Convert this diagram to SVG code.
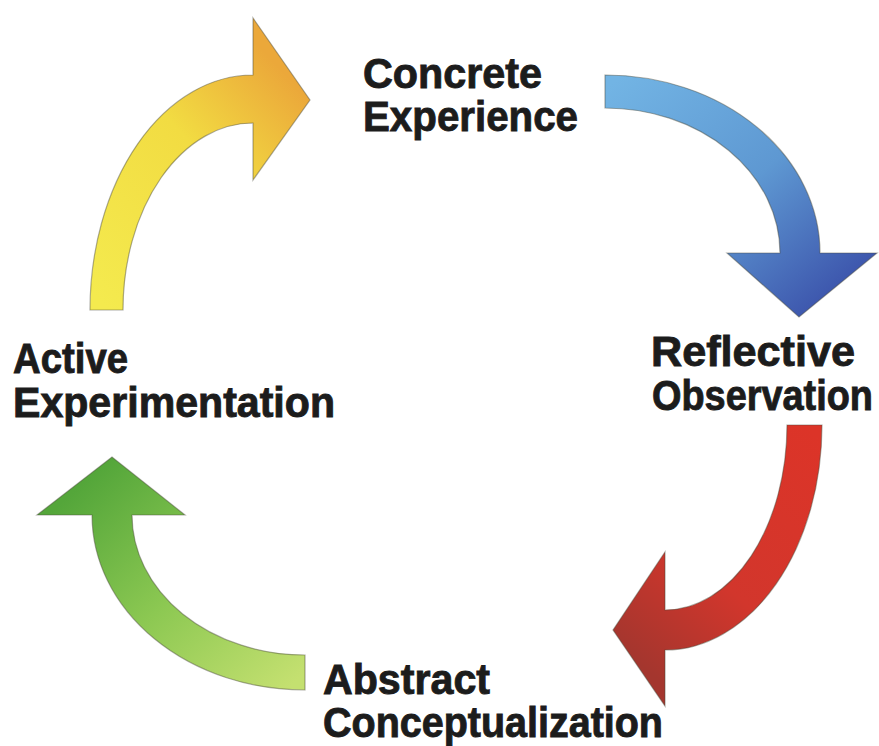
<svg xmlns="http://www.w3.org/2000/svg" width="879" height="746" viewBox="0 0 879 746">
  <style>
    .lbl { font-family: "Liberation Sans", Arial, sans-serif; font-weight: bold; font-size: 42px; fill: #1c1c1c; stroke: #1c1c1c; stroke-width: 0.9; }
    .arrow { stroke: #4a4a3a; stroke-opacity: 0.45; stroke-width: 1.2; stroke-linejoin: miter; }
  </style>
  <defs>
    <linearGradient id="gYellow" gradientUnits="userSpaceOnUse" x1="100" y1="300" x2="310" y2="100">
      <stop offset="0" stop-color="#f4ea4e"/>
      <stop offset="0.6" stop-color="#f2dc42"/>
      <stop offset="1" stop-color="#eba83a"/>
    </linearGradient>
    <linearGradient id="gBlue" gradientUnits="userSpaceOnUse" x1="605" y1="90" x2="800" y2="317">
      <stop offset="0" stop-color="#72b4e4"/>
      <stop offset="0.55" stop-color="#5e98d2"/>
      <stop offset="1" stop-color="#3e58ae"/>
    </linearGradient>
    <linearGradient id="gRed" gradientUnits="userSpaceOnUse" x1="805" y1="425" x2="613" y2="640">
      <stop offset="0" stop-color="#dc3428"/>
      <stop offset="0.6" stop-color="#d2362c"/>
      <stop offset="1" stop-color="#a4362e"/>
    </linearGradient>
    <linearGradient id="gGreen" gradientUnits="userSpaceOnUse" x1="305" y1="672" x2="112" y2="457">
      <stop offset="0" stop-color="#c4e070"/>
      <stop offset="0.5" stop-color="#8cc852"/>
      <stop offset="1" stop-color="#54a63a"/>
    </linearGradient>
  </defs>
  <rect width="879" height="746" fill="#ffffff"/>

  <g id="connectors">
    <path id="arrow-ae-ce" class="arrow" fill="url(#gYellow)" d="M90,310 A163,235 0 0 1 253,75 L253,18 L310,100 L253,180 L253,123 A130,187 0 0 0 123,310 Z"/>
    <path id="arrow-ce-ro" class="arrow" fill="url(#gBlue)" d="M605,75 A215,178 0 0 1 820,253 L877,253 L799,317 L727,253 L780,253 A175,145 0 0 0 605,108 Z"/>
    <path id="arrow-ro-ac" class="arrow" fill="url(#gRed)" d="M822,425 L787,425 A122,185 0 0 1 665,610 L665,552 L613,630 L665,706 L665,650 A157,225 0 0 0 822,425 Z"/>
    <path id="arrow-ac-ae" class="arrow" fill="url(#gGreen)" d="M305,655 A173,140 0 0 1 132,515 L185,515 L112,457 L37,515 L92,515 A213,175 0 0 0 305,690 Z"/>
  </g>

  <g id="concrete-experience">
    <text class="lbl" x="363" y="88" textLength="179" lengthAdjust="spacingAndGlyphs">Concrete</text>
    <text class="lbl" x="363" y="131" textLength="215" lengthAdjust="spacingAndGlyphs">Experience</text>
  </g>
  <g id="reflective-observation">
    <text class="lbl" x="651" y="366" textLength="204" lengthAdjust="spacingAndGlyphs">Reflective</text>
    <text class="lbl" x="873" y="410" text-anchor="end" textLength="221" lengthAdjust="spacingAndGlyphs">Observation</text>
  </g>
  <g id="abstract-conceptualization">
    <text class="lbl" x="323" y="694" textLength="167" lengthAdjust="spacingAndGlyphs">Abstract</text>
    <text class="lbl" x="323" y="737" textLength="340" lengthAdjust="spacingAndGlyphs">Conceptualization</text>
  </g>
  <g id="active-experimentation">
    <text class="lbl" x="13" y="373" textLength="115" lengthAdjust="spacingAndGlyphs">Active</text>
    <text class="lbl" x="13" y="417" textLength="322" lengthAdjust="spacingAndGlyphs">Experimentation</text>
  </g>
</svg>
